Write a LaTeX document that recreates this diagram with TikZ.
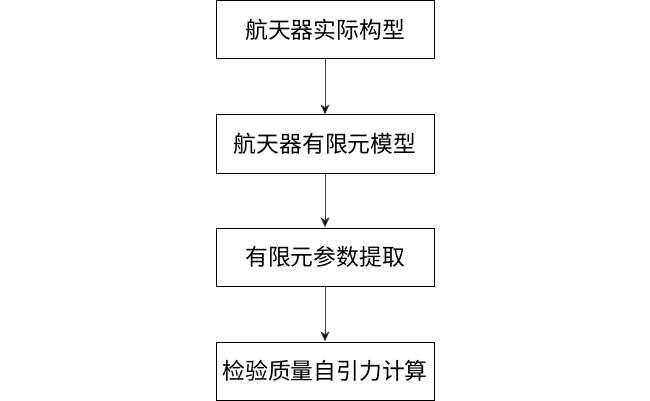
\documentclass[tikz,border=0pt]{standalone}
\usepackage{fontspec}
\newfontfamily\cjk{Noto Sans CJK SC}
\usetikzlibrary{arrows.meta}
\begin{document}
\begin{tikzpicture}[x=1pt,y=-1pt,
  stepbox/.style={draw=black,line width=1pt,minimum width=218pt,minimum height=58pt,inner sep=0pt,font=\cjk\fontsize{22.8}{24}\selectfont},
  conn/.style={draw=black!75,line width=1pt,-{Stealth[length=10pt,width=9pt,inset=2.5pt,fill=black]}}]
\useasboundingbox (0,0) rectangle (650,401);
\node[stepbox] (a) at (325,29.5) {航天器实际构型};
\node[stepbox] (b) at (325,144) {航天器有限元模型};
\node[stepbox] (c) at (325,257) {有限元参数提取};
\node[stepbox] (d) at (325,371) {检验质量自引力计算};
\draw[conn] (a) -- (b);
\draw[conn] (b) -- (c);
\draw[conn] (c) -- (d);
\end{tikzpicture}
\end{document}
